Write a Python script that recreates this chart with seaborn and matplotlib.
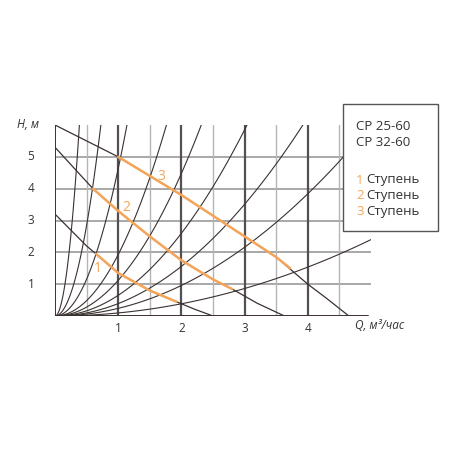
import numpy as np
import pandas as pd
import matplotlib
matplotlib.use("Agg")
import matplotlib.pyplot as plt
import seaborn as sns
from matplotlib.patches import Rectangle

# pump curves (Q, H)
pump_q = [
    [0, 0.25, 0.5, 0.65, 1.0, 1.5, 1.92, 2.2, 2.5],
    [0, 0.6, 1.0, 1.5, 2.0, 2.5, 2.8, 3.2, 3.63],
    [0, 1.0, 1.5, 2.0, 2.5, 3.0, 3.5, 4.0, 4.3, 4.65],
]
pump_h = [
    [3.2, 2.7, 2.2, 1.95, 1.35, 0.8, 0.45, 0.22, 0.0],
    [5.3, 4.0, 3.3, 2.5, 1.75, 1.15, 0.85, 0.4, 0.0],
    [6.0, 5.0, 4.4, 3.8, 3.15, 2.5, 1.85, 1.0, 0.55, 0.0],
]
# working ranges (orange) for the three speeds
speed_q = [
    [0.65, 1.0, 1.5, 1.92],
    [0.6, 1.0, 1.5, 2.0, 2.5, 2.8],
    [1.0, 1.5, 2.0, 2.5, 3.0, 3.5, 3.72],
]
speed_h = [
    [1.95, 1.35, 0.8, 0.45],
    [4.0, 3.3, 2.5, 1.75, 1.15, 0.85],
    [5.0, 4.4, 3.8, 3.15, 2.5, 1.85, 1.5],
]
speed_labels = ["1", "2", "3"]
label_pos = [(0.68, 1.48), (1.13, 3.4), (1.69, 4.38)]
# system curves H = k*Q^2
system_k = [40.3, 11.4, 4.63, 1.93, 1.12, 0.65, 0.39, 0.24, 0.096]

x_ticks = [1, 2, 3, 4]
y_ticks = [1, 2, 3, 4, 5]
legend_title = ["CP 25-60", "CP 32-60"]
legend_items = ["Ступень", "Ступень", "Ступень"]

orange = "#f5a55a"
dark = "#3b3131"
grey = "#9a9a9a"

sns.set_style("white")
plt.rcParams["font.family"] = ["Open Sans", "DejaVu Sans"]

fig = plt.figure(figsize=(4.5, 4.5), dpi=100)
ax = fig.add_axes([55 / 450, 134 / 450, 316 / 450, 191 / 450])
ax.set_xlim(0, 5)
ax.set_ylim(0, 6)
ax.axis("off")

# grid
for h in y_ticks:
    ax.plot([0, 5.02], [h, h], color=grey, lw=1.2, zorder=1)
for q in np.arange(0.5, 5.0, 0.5):
    if float(q).is_integer():
        ax.plot([q, q], [0, 6], color="#555050", lw=1.6, zorder=1)
    else:
        ax.plot([q, q], [0, 6], color="#b5b5b5", lw=1.0, zorder=1)
ax.plot([0, 0], [0, 6], color=dark, lw=1.4, zorder=2)
ax.plot([0, 4.95], [0, 0], color=dark, lw=1.4, zorder=2)

# system curves
for k in system_k:
    q = np.linspace(0, min(5.0, np.sqrt(6 / k)), 80)
    sns.lineplot(x=q, y=k * q ** 2, ax=ax, color=dark, lw=0.8, sort=False, zorder=2)

# pump curves
for qs, hs in zip(pump_q, pump_h):
    sns.lineplot(x=qs, y=hs, ax=ax, color=dark, lw=0.9, sort=False, zorder=3)

# speeds
for qs, hs, lab, pos in zip(speed_q, speed_h, speed_labels, label_pos):
    sns.lineplot(x=qs, y=hs, ax=ax, color=orange, lw=1.8, sort=False, zorder=4)
    ax.text(pos[0], pos[1], lab, color=orange, fontsize=10, ha="center", va="center", zorder=5)

for t in x_ticks:
    ax.text(t, -0.2, str(t), ha="center", va="top", fontsize=8.5, color="#333333")
for t in y_ticks:
    ax.text(-0.38, t, str(t), ha="center", va="center", fontsize=8.5, color="#333333")
ax.text(-0.42, 6.0, "H, м", ha="center", va="center", fontsize=8.5, style="italic", color="#333333")
ax.text(4.75, -0.3, "Q, м³/час", ha="left", va="center", fontsize=8.5, style="italic", color="#333333")

# legend box
fig.patches.append(Rectangle((343 / 450, 1 - 231 / 450), 95 / 450, 127 / 450,
                             transform=fig.transFigure, facecolor="white",
                             edgecolor="#555555", lw=1.0, zorder=10))
for i, t in enumerate(legend_title):
    fig.text(356 / 450, 1 - (127 + 16 * i) / 450, t, fontsize=9.5, va="center", color="#333333", zorder=11)
for i, (lab, t) in enumerate(zip(speed_labels, legend_items)):
    y = 1 - (180 + 16 * i) / 450
    fig.text(356 / 450, y, lab, fontsize=9.5, va="center", color=orange, zorder=11)
    fig.text(366 / 450, y, t, fontsize=9.5, va="center", color="#333333", zorder=11)

fig.savefig("out.png", dpi=100)
